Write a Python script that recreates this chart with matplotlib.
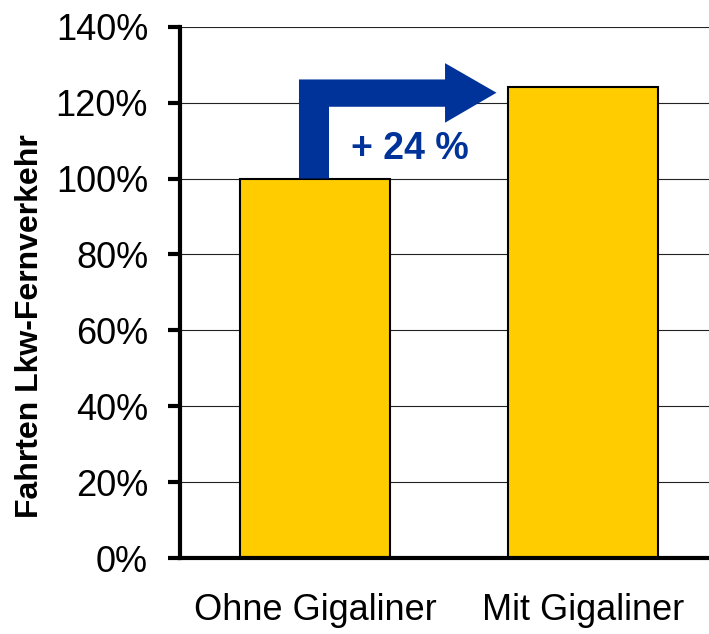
import matplotlib
matplotlib.use("Agg")
import matplotlib.pyplot as plt
from matplotlib.patches import Polygon
from matplotlib.ticker import FuncFormatter

categories = ["Ohne Gigaliner", "Mit Gigaliner"]
values = [100, 124]
yticks = [0, 20, 40, 60, 80, 100, 120, 140]
ylabel = "Fahrten Lkw-Fernverkehr"

plt.rcParams['font.family'] = ['Liberation Sans', 'DejaVu Sans']

fig = plt.figure(figsize=(7.09, 6.34), dpi=100)
ax = fig.add_axes([180/709, 76/634, 1 - 180/709, (558 - 26.7)/634])

x = list(range(len(categories)))
ax.bar(x, values, width=0.56, color='#FFCC00', edgecolor='black', linewidth=1.5, zorder=3)

ax.set_xlim(-0.504, 1.47)
ax.set_ylim(0, 140)
ax.set_yticks(yticks)
ax.yaxis.set_major_formatter(FuncFormatter(lambda v, p: f"{int(v)}%"))
ax.set_xticks(x)
ax.set_xticklabels(categories)

ax.grid(axis='y', color='#222222', linewidth=0.8, zorder=0)
ax.set_axisbelow(True)
for s in ['top', 'right']:
    ax.spines[s].set_visible(False)
ax.spines['left'].set_linewidth(3)
ax.spines['bottom'].set_linewidth(3)
ax.spines['left'].set_zorder(4)
ax.spines['bottom'].set_zorder(4)

ax.tick_params(axis='y', length=9, width=3, pad=14, labelsize=26)
ax.tick_params(axis='x', length=0, pad=25, labelsize=26)

fig.text(30/709, 1 - 326/634, ylabel, rotation=90, fontsize=23, fontweight='bold',
         ha='center', va='center')

# Arrow annotation (bent arrow from bar 1 to bar 2)
blue = '#003399'
arrow_pts = [(-0.06, values[0]), (0.052, values[0]), (0.052, 118.9), (0.485, 118.9),
             (0.485, 114.7), (0.677, 122.6), (0.485, 130.4), (0.485, 126.1),
             (-0.06, 126.1)]
ax.add_patch(Polygon(arrow_pts, closed=True, facecolor=blue, edgecolor='none', zorder=5))

pct = round((values[1] / values[0] - 1) * 100)
ax.text(0.352, 105.1, f"+ {pct} %", color=blue, fontsize=27, fontweight='bold',
        ha='center', va='baseline', zorder=6)

fig.savefig("out.png", dpi=100)
